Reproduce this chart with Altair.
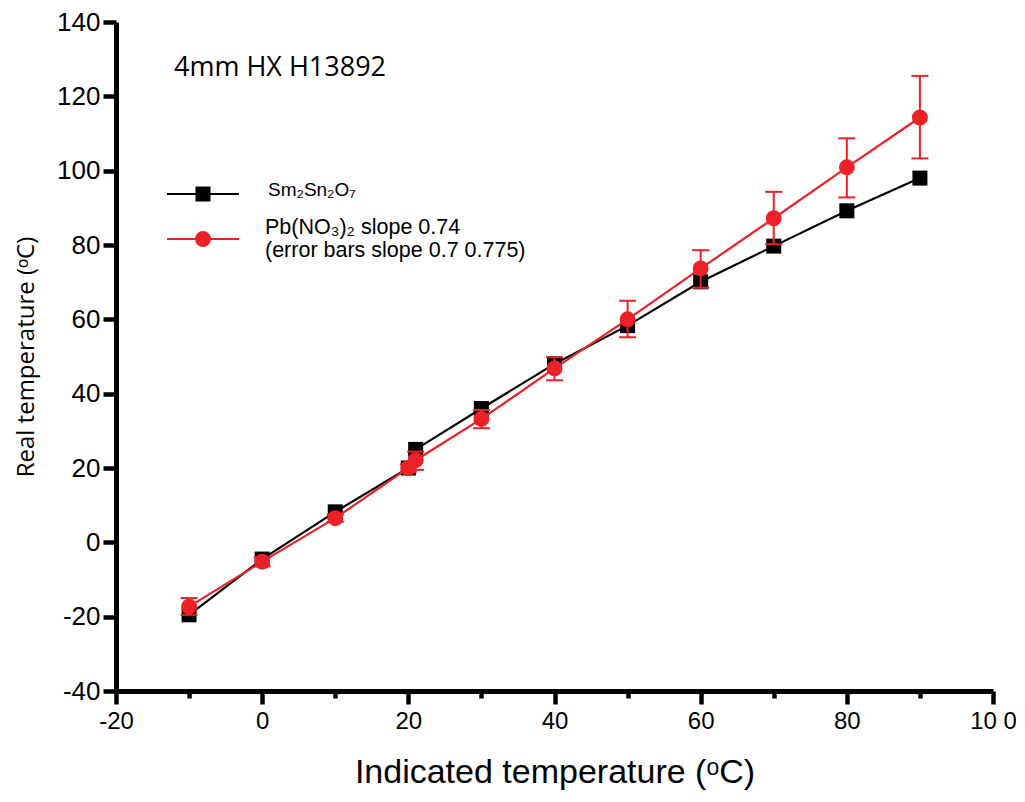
import altair as alt
import pandas as pd

# ---- data ----
indicated = [-10, 0, 10, 20, 21, 30, 40, 50, 60, 70, 80, 90]
sm2sn2o7 = [-19.5, -4.5, 8.2, 20.0, 25.0, 36.0, 48.0, 58.3, 70.1, 79.7, 89.2, 98.0]
pbno3 = [-17.3, -5.2, 6.5, 20.0, 22.1, 33.2, 46.8, 60.0, 73.7, 87.2, 100.9, 114.3]
pb_low = [-19.5, -6.5, 5.5, 19.0, 19.5, 30.7, 43.6, 55.2, 68.5, 80.2, 92.8, 103.3]
pb_high = [-15.0, -4.0, 7.5, 21.0, 24.4, 35.6, 49.8, 65.0, 78.6, 94.3, 108.7, 125.5]

x_ticks = list(range(-20, 101, 10))
y_ticks = list(range(-40, 141, 10))

annotation = "4mm HX H13892"
legend_sm = "Sm\u2082Sn\u2082O\u2087"
legend_pb = ["Pb(NO\u2083)\u2082 slope 0.74", "(error bars slope 0.7 0.775)"]

RED = "#EC2127"
BLACK = "#000000"

df = pd.DataFrame({
    "x": indicated,
    "sm": sm2sn2o7,
    "pb": pbno3,
    "lo": pb_low,
    "hi": pb_high,
})

W, H = 877, 669

major_cond = {"condition": {"test": "datum.value % 20 === 0", "value": 13}, "value": 7}

x_axis = alt.Axis(
    values=x_ticks,
    labelExpr="datum.value % 20 === 0 ? (datum.value === 100 ? '10 0' : '' + datum.value) : ''",
    tickSize=major_cond,
    tickWidth=4.5,
    tickColor=BLACK,
    domainWidth=5,
    domainColor=BLACK,
    grid=False,
    labelFont="Liberation Sans Narrow, Arial Narrow, Liberation Sans, sans-serif",
    labelFontSize=24,
    labelColor=BLACK,
    labelPadding=5,
    labelFlush=False,
    labelOverlap=False,
    title="Indicated temperature (\u1d52C)",
    titleFont="Liberation Sans, Arial, sans-serif",
    titleFontSize=34,
    titleFontWeight="normal",
    titleColor=BLACK,
    titlePadding=22,
)

y_axis = alt.Axis(
    values=y_ticks,
    labelExpr="datum.value % 20 === 0 ? '' + datum.value : ''",
    tickSize=major_cond,
    tickWidth=4.5,
    tickColor=BLACK,
    domainWidth=5,
    domainColor=BLACK,
    grid=False,
    labelFont="Liberation Sans, Arial, sans-serif",
    labelFontSize=26,
    labelColor=BLACK,
    labelPadding=3,
    labelFlush=False,
    labelOverlap=False,
    title="Real temperature (\u1d52C)",
    titleFont="Open Sans, sans-serif",
    titleFontSize=24,
    titleFontWeight="normal",
    titleColor=BLACK,
    titlePadding=18,
)

xs = alt.Scale(domain=[-20, 100], nice=False, zero=False)
ys = alt.Scale(domain=[-40, 140], nice=False, zero=False)

base = alt.Chart(df)

black_line = base.mark_line(color=BLACK, strokeWidth=2.2).encode(
    x=alt.X("x:Q", scale=xs, axis=x_axis),
    y=alt.Y("sm:Q", scale=ys, axis=y_axis),
)
black_pts = base.mark_point(shape="square", filled=True, size=225, color=BLACK, opacity=1).encode(
    x=alt.X("x:Q", scale=xs), y=alt.Y("sm:Q", scale=ys)
)
err_rule = base.mark_rule(color=RED, strokeWidth=2).encode(
    x=alt.X("x:Q", scale=xs), y=alt.Y("lo:Q", scale=ys), y2="hi:Q"
)
cap_lo = base.mark_tick(color=RED, orient="horizontal", size=17, thickness=2, opacity=1).encode(
    x=alt.X("x:Q", scale=xs), y=alt.Y("lo:Q", scale=ys)
)
cap_hi = base.mark_tick(color=RED, orient="horizontal", size=17, thickness=2, opacity=1).encode(
    x=alt.X("x:Q", scale=xs), y=alt.Y("hi:Q", scale=ys)
)
red_line = base.mark_line(color=RED, strokeWidth=2.2).encode(
    x=alt.X("x:Q", scale=xs), y=alt.Y("pb:Q", scale=ys)
)
red_pts = base.mark_circle(size=254, color=RED, opacity=1).encode(
    x=alt.X("x:Q", scale=xs), y=alt.Y("pb:Q", scale=ys)
)

# ---- annotation and hand-drawn legend (pixel positions inside plot area) ----
ann = alt.Chart(pd.DataFrame({"t": [annotation]})).mark_text(
    font="Open Sans, sans-serif", fontSize=27, color=BLACK, align="left", baseline="alphabetic"
).encode(x=alt.value(58), y=alt.value(54), text="t:N")

leg_df = pd.DataFrame({"t": ["a"]})
leg_black_line = alt.Chart(leg_df).mark_rule(color=BLACK, strokeWidth=2.2).encode(
    x=alt.value(51), x2=alt.value(123), y=alt.value(172)
)
leg_black_pt = alt.Chart(leg_df).mark_point(shape="square", filled=True, size=225, color=BLACK, opacity=1).encode(
    x=alt.value(87), y=alt.value(172)
)
leg_red_line = alt.Chart(leg_df).mark_rule(color=RED, strokeWidth=2.2).encode(
    x=alt.value(51), x2=alt.value(123), y=alt.value(217)
)
leg_red_pt = alt.Chart(leg_df).mark_circle(size=254, color=RED, opacity=1).encode(
    x=alt.value(87), y=alt.value(217)
)
leg_sm_text = alt.Chart(pd.DataFrame({"t": [legend_sm]})).mark_text(
    font="Liberation Sans, Arial, sans-serif", fontSize=19, color=BLACK, align="left", baseline="middle"
).encode(x=alt.value(152), y=alt.value(168), text="t:N")
leg_pb_text1 = alt.Chart(pd.DataFrame({"t": [legend_pb[0]]})).mark_text(
    font="Liberation Sans, Arial, sans-serif", fontSize=21.5, color=BLACK, align="left", baseline="alphabetic"
).encode(x=alt.value(149), y=alt.value(212), text="t:N")
leg_pb_text2 = alt.Chart(pd.DataFrame({"t": [legend_pb[1]]})).mark_text(
    font="Liberation Sans, Arial, sans-serif", fontSize=21.5, color=BLACK, align="left", baseline="alphabetic"
).encode(x=alt.value(149), y=alt.value(235), text="t:N")

chart = alt.layer(
    black_line, black_pts, err_rule, cap_lo, cap_hi, red_line, red_pts,
    ann, leg_black_line, leg_black_pt, leg_red_line, leg_red_pt,
    leg_sm_text, leg_pb_text1, leg_pb_text2,
).properties(
    width=W,
    height=H,
    autosize=alt.AutoSizeParams(type="none"),
    padding={"left": 108, "top": 14, "right": 23, "bottom": 100},
    background="white",
).configure_view(stroke=None)

chart.save("out.html", embed_options={"renderer": "svg", "actions": False})
